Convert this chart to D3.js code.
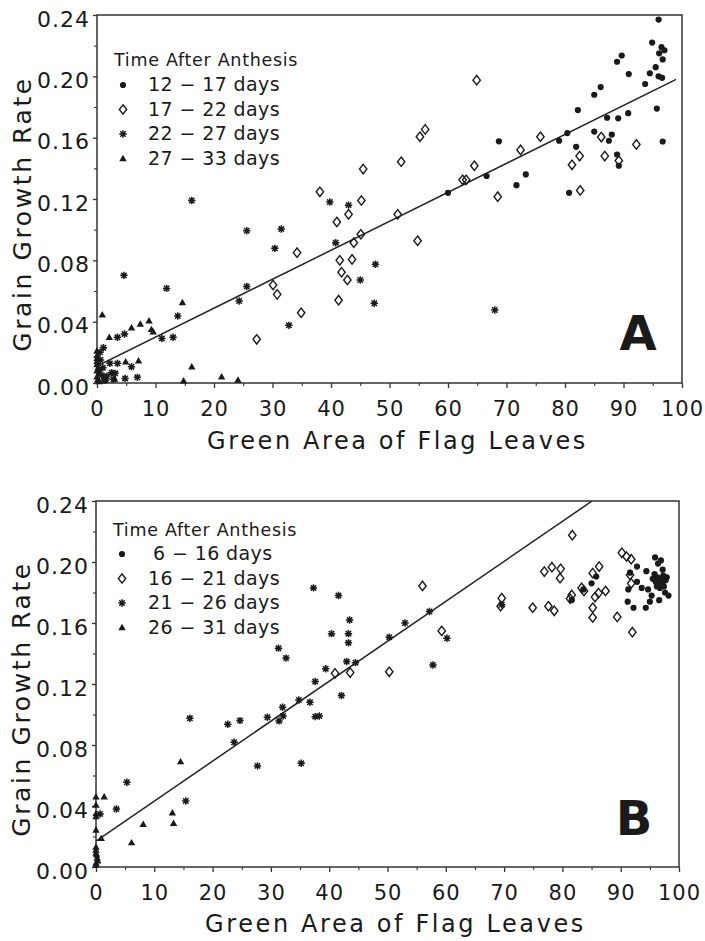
<!DOCTYPE html>
<html><head><meta charset="utf-8">
<script src="https://cdn.jsdelivr.net/npm/d3@7"></script>
<style>body{margin:0;background:#fff}</style>
</head><body>
<svg id="c" width="705" height="941"></svg>
<script>
// ---------- tick labels / legend text ----------
const xTicks = [0,10,20,30,40,50,60,70,80,90,100];
const xMinor = [5,15,25,35,45,55,65,75,85,95];
const yTicks = [0,0.04,0.08,0.12,0.16,0.20,0.24];
const yMinor = [0.02,0.06,0.10,0.14,0.18,0.22];
const yTickLabels = ["0.00","0.04","0.08","0.12","0.16","0.20","0.24"];
const xTitle = "Green Area of Flag Leaves";
const yTitle = "Grain Growth Rate";
const legendTitle = "Time After Anthesis";
const legendA = ["12 − 17 days","17 − 22 days","22 − 27 days","27 − 33 days"];
const legendB = ["6 − 16 days","16 − 21 days","21 − 26 days","26 − 31 days"];

// ---------- Panel A data ----------
const A_12_17 = [[96.0,0.237],[94.9,0.222],[96.5,0.219],[97.0,0.217],[96.1,0.215],[96.7,0.211],[95.5,0.206],[94.5,0.202],[96.0,0.200],[96.6,0.199],[93.7,0.195],[88.9,0.2095],[89.7,0.2136],[90.9,0.2015],[86.1,0.193],[85.0,0.188],[82.2,0.178],[95.7,0.179],[90.8,0.176],[89.1,0.1726],[87.2,0.173],[80.4,0.163],[79.0,0.158],[85.0,0.164],[88.0,0.162],[87.5,0.158],[81.9,0.154],[96.7,0.1575],[88.9,0.149],[89.2,0.1417],[80.7,0.124],[71.7,0.129],[73.3,0.136],[68.7,0.1576],[66.6,0.135],[60.0,0.124]];
const A_17_22 = [[64.9,0.1975],[55.2,0.1606],[56.1,0.1654],[52.0,0.1443],[45.5,0.1395],[45.2,0.119],[51.4,0.110],[43.0,0.110],[64.5,0.1417],[62.5,0.1325],[63.1,0.1325],[72.4,0.152],[75.8,0.1606],[68.5,0.1215],[86.2,0.1604],[82.5,0.148],[81.2,0.1423],[86.8,0.148],[89.2,0.145],[92.2,0.1556],[82.6,0.1256],[38.1,0.1247],[41.0,0.105],[45.1,0.097],[43.9,0.0915],[34.2,0.085],[54.8,0.0928],[41.5,0.080],[43.6,0.0806],[41.8,0.0722],[42.8,0.0672],[41.3,0.054],[30.1,0.0639],[30.8,0.0578],[34.9,0.0458],[27.3,0.0285]];
const A_22_27 = [[16.2,0.119],[39.8,0.118],[43.0,0.116],[25.6,0.0993],[31.5,0.1004],[30.4,0.0878],[40.8,0.0915],[4.6,0.0702],[11.9,0.0617],[25.6,0.063],[24.3,0.0535],[13.8,0.0437],[32.8,0.0376],[11.1,0.029],[13.0,0.0298],[4.7,0.032],[3.5,0.0298],[1.1,0.023],[47.6,0.0774],[45.0,0.0672],[47.4,0.052],[68.0,0.0476],[3.5,0.0128],[2.2,0.0128],[5.9,0.0106],[4.8,0.003],[6.9,0.0037],[3.1,0.0063],[2.5,0.0067],[1.7,0.0045],[1.5,0.002],[2.8,0.0024],[0.5,0.020],[0.6,0.015],[1.0,0.010],[0.8,0.005],[1.2,0.002],[0.4,0.008]];
const A_27_33 = [[0.9,0.0445],[2.1,0.0298],[5.9,0.036],[7.4,0.0385],[8.9,0.0406],[9.3,0.035],[9.6,0.0334],[14.6,0.0525],[16.2,0.0106],[14.8,0.0015],[21.3,0.0041],[24.1,0.002],[4.9,0.0139],[7.1,0.0145],[3.0,0.0026],[0,0.021],[0,0.018],[0,0.016],[0,0.014],[0,0.012],[0.2,0.010],[0,0.008],[0.3,0.006],[0,0.004],[0.1,0.002],[0.4,0.001]];
const lineA = [[0,0.011],[99,0.198]];

// ---------- Panel B data ----------
const B_6_16 = [[95.9,0.203],[96.4,0.199],[96.9,0.201],[97.2,0.195],[95.8,0.192],[96.3,0.190],[96.8,0.189],[97.3,0.191],[97.7,0.188],[96.0,0.187],[96.6,0.186],[97.1,0.186],[95.5,0.189],[97.9,0.190],[97.6,0.180],[98.2,0.178],[96.7,0.183],[95.3,0.178],[95.0,0.174],[94.3,0.170],[96.6,0.175],[92.8,0.197],[94.4,0.194],[91.6,0.193],[92.8,0.187],[93.6,0.183],[91.3,0.182],[94.7,0.182],[91.2,0.174],[92.2,0.170],[85.0,0.186],[85.8,0.1905],[83.6,0.182],[81.6,0.175],[96.2,0.184],[97.4,0.184]];
const B_16_21 = [[56.0,0.1843],[59.3,0.1548],[50.3,0.128],[43.6,0.1275],[41.0,0.127],[69.6,0.1763],[69.4,0.171],[74.9,0.170],[76.9,0.1937],[78.2,0.1966],[79.7,0.1955],[79.6,0.1894],[77.6,0.171],[78.6,0.168],[81.7,0.2176],[81.6,0.1784],[81.3,0.176],[85.2,0.1927],[86.3,0.197],[85.6,0.177],[86.2,0.1796],[87.4,0.181],[85.2,0.170],[85.2,0.1636],[89.4,0.164],[92.0,0.154],[90.2,0.206],[91.0,0.2036],[91.8,0.2018],[91.6,0.1915],[91.8,0.186],[83.3,0.183],[83.7,0.181]];
const B_21_26 = [[37.3,0.183],[41.6,0.178],[40.4,0.153],[31.3,0.1435],[32.6,0.137],[39.4,0.130],[37.6,0.1216],[43.0,0.1347],[43.3,0.147],[43.3,0.153],[43.5,0.162],[42.1,0.1124],[36.7,0.108],[34.8,0.1095],[32.0,0.1048],[32.1,0.099],[31.4,0.0958],[29.4,0.0982],[37.6,0.0986],[38.3,0.099],[24.7,0.096],[22.6,0.0936],[23.7,0.0818],[16.1,0.0975],[27.7,0.0663],[35.2,0.068],[5.3,0.0556],[15.4,0.0433],[3.5,0.038],[0.7,0.0348],[57.2,0.1675],[53.0,0.160],[50.3,0.1507],[60.2,0.150],[57.8,0.1325],[44.5,0.134],[69.6,0.172]];
const B_26_31 = [[14.5,0.0691],[1.4,0.0461],[13.1,0.0356],[13.3,0.0287],[8.1,0.028],[6.1,0.016],[0,0.046],[0,0.0407],[0,0.035],[0,0.033],[0,0.0243],[0.9,0.0188],[0,0.0131],[0,0.0111],[0,0.0092],[0.2,0.0059],[0,0.0026],[0,0.0013],[0.3,0.004],[0.1,0.008]];
const lineB = [[0,0.017],[85.1,0.24]];

// ---------- drawing ----------
const svg = d3.select("#c");
const FONT = "'DejaVu Sans', sans-serif";
const INK = "#1a1a1a";

const symPaths = {
  dot: "M0,-3.1A3.1,3.1 0 1,1 0,3.1A3.1,3.1 0 1,1 0,-3.1Z",
  diamond: "M0,-4.7L3.7,0L0,4.7L-3.7,0Z",
  star: "M-3.7,0H3.7M0,-3.7V3.7M-2.7,-2.7L2.7,2.7M-2.7,2.7L2.7,-2.7",
  tri: "M0,-3.7L3.7,2.7L-3.7,2.7Z"
};
function drawSym(g, type, x, y) {
  const p = g.append("path").attr("d", symPaths[type]).attr("transform", `translate(${x},${y})`);
  if (type === "dot" || type === "tri") p.attr("fill", INK).attr("stroke", "none");
  else if (type === "diamond") p.attr("fill", "none").attr("stroke", INK).attr("stroke-width", 1.4);
  else p.attr("fill", "none").attr("stroke", INK).attr("stroke-width", 1.5);
}

function panel(cfg) {
  const x = d3.scaleLinear().domain([0,100]).range([cfg.left, cfg.right]);
  const y = d3.scaleLinear().domain([0,0.24]).range([cfg.bottom, cfg.top]);
  const g = svg.append("g");

  const cid = "clip" + cfg.id;
  svg.append("clipPath").attr("id", cid).append("rect")
    .attr("x", cfg.left).attr("y", cfg.top).attr("width", cfg.right - cfg.left).attr("height", cfg.bottom - cfg.top);

  // frame
  g.append("rect").attr("x", cfg.left).attr("y", cfg.top)
    .attr("width", cfg.right - cfg.left).attr("height", cfg.bottom - cfg.top)
    .attr("fill", "none").attr("stroke", "#333").attr("stroke-width", 1.5);

  // x axis
  const xa = g.append("g").attr("transform", `translate(0,${cfg.bottom})`)
    .call(d3.axisBottom(x).tickValues(xTicks).tickFormat(d3.format("d")).tickSize(5).tickSizeOuter(0).tickPadding(13));
  xa.select(".domain").remove();
  xa.selectAll("line").attr("stroke", "#333").attr("stroke-width", 1.3);
  xa.selectAll("text").attr("font-family", FONT).attr("font-size", 21).attr("fill", INK).attr("letter-spacing", 1);
  const xm = g.append("g").attr("transform", `translate(0,${cfg.bottom})`)
    .call(d3.axisBottom(x).tickValues(xMinor).tickFormat("").tickSize(3).tickSizeOuter(0));
  xm.select(".domain").remove();
  xm.selectAll("line").attr("stroke", "#333").attr("stroke-width", 1.1);

  // y axis
  const ya = g.append("g").attr("transform", `translate(${cfg.left},0)`)
    .call(d3.axisLeft(y).tickValues(yTicks).tickFormat((d,i) => yTickLabels[i]).tickSize(4).tickSizeOuter(0).tickPadding(3));
  ya.select(".domain").remove();
  ya.selectAll("line").attr("stroke", "#333").attr("stroke-width", 1.3);
  ya.selectAll("text").attr("font-family", FONT).attr("font-size", 22).attr("fill", INK).attr("letter-spacing", 1).attr("dy", "0.5em");
  const ym = g.append("g").attr("transform", `translate(${cfg.left},0)`)
    .call(d3.axisLeft(y).tickValues(yMinor).tickFormat("").tickSize(3).tickSizeOuter(0));
  ym.select(".domain").remove();
  ym.selectAll("line").attr("stroke", "#333").attr("stroke-width", 1.1);

  // titles
  g.append("text").attr("x", (cfg.left + cfg.right) / 2 + 8).attr("y", cfg.bottom + cfg.xTitleDy)
    .attr("text-anchor", "middle").attr("font-family", FONT).attr("font-size", 24)
    .attr("letter-spacing", 2.6).attr("fill", INK).text(xTitle);
  g.append("text").attr("transform", `translate(${cfg.left - 66},${(cfg.top + cfg.bottom) / 2 + 15}) rotate(-90)`)
    .attr("text-anchor", "middle").attr("font-family", FONT).attr("font-size", 25)
    .attr("letter-spacing", 2.6).attr("fill", INK).text(yTitle);

  // regression line
  g.append("path").datum(cfg.line).attr("clip-path", `url(#${cid})`)
    .attr("d", d3.line().x(d => x(d[0])).y(d => y(d[1])))
    .attr("fill", "none").attr("stroke", "#222").attr("stroke-width", 1.5);

  // points
  const types = ["dot","diamond","star","tri"];
  cfg.series.forEach((s, i) => {
    const sg = g.append("g");
    s.forEach(d => drawSym(sg, types[i], x(d[0]), y(d[1])));
  });

  // legend
  const lg = g.append("g");
  lg.append("text").attr("x", cfg.left + 17).attr("y", cfg.top + cfg.legTitleDy)
    .attr("font-family", FONT).attr("font-size", 17.5).attr("fill", INK).attr("letter-spacing", 0.7).text(legendTitle);
  cfg.legend.forEach((t, i) => {
    const by = cfg.top + cfg.legItemDy + i * 24.5;
    drawSym(lg, types[i], cfg.left + 26, by - 6);
    lg.append("text").attr("x", cfg.left + cfg.legendTx[i]).attr("y", by)
      .attr("font-family", FONT).attr("font-size", 19).attr("fill", INK).attr("letter-spacing", 0.4).text(t);
  });

  // panel letter
  g.append("text").attr("x", cfg.letterX).attr("y", cfg.letterY).attr("text-anchor", "middle")
    .attr("font-family", FONT).attr("font-weight", "bold").attr("font-size", 48).attr("fill", INK).text(cfg.letter);
}

panel({id: "A", left: 97, right: 682, top: 15, bottom: 383, xTitleDy: 66,
  series: [A_12_17, A_17_22, A_22_27, A_27_33], line: lineA,
  legend: legendA, legendTx: [51,51,51,51], legTitleDy: 51, legItemDy: 76,
  letter: "A", letterX: 638, letterY: 350});
panel({id: "B", left: 96, right: 679, top: 501, bottom: 867, xTitleDy: 65,
  series: [B_6_16, B_16_21, B_21_26, B_26_31], line: lineB,
  legend: legendB, legendTx: [57,52,52,52], legTitleDy: 35, legItemDy: 59,
  letter: "B", letterX: 634, letterY: 835});
</script>
</body></html>
